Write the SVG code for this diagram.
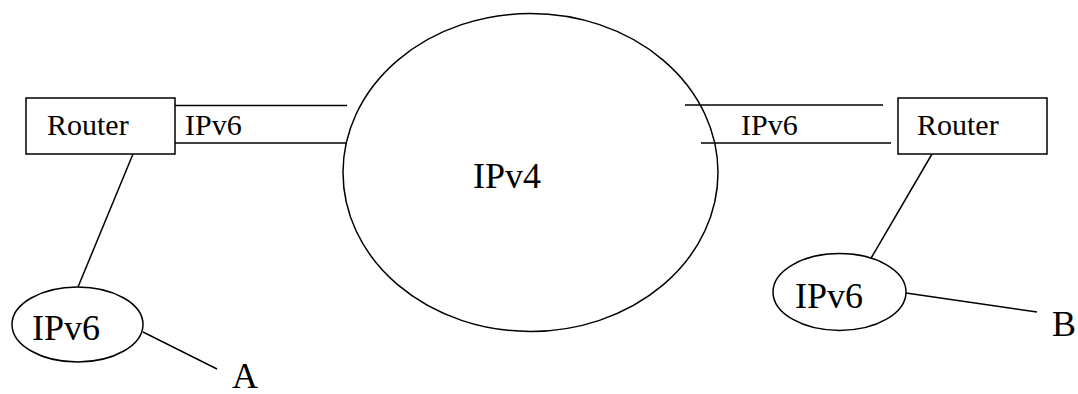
<svg xmlns="http://www.w3.org/2000/svg" width="1078" height="394" viewBox="0 0 1078 394">
<style>
.s{fill:none;stroke:#000;stroke-width:1.5}
.b{fill:#fff;stroke:#000;stroke-width:1.5}
text{font-family:'Liberation Serif','DejaVu Serif',serif;fill:#000}
.m{font-size:30px}
.l{font-size:36px}
</style>
<rect width="1078" height="394" fill="#fff"/>
<g id="connectors">
<line class="s" x1="175" y1="105.5" x2="347" y2="105.5"/>
<line class="s" x1="175" y1="143" x2="347" y2="143"/>
<line class="s" x1="685" y1="105" x2="883" y2="105"/>
<line class="s" x1="701" y1="143" x2="891" y2="143"/>
<line class="s" x1="133" y1="154" x2="78" y2="287"/>
<line class="s" x1="932" y1="154" x2="870" y2="260"/>
<line class="s" x1="143" y1="332" x2="217" y2="369"/>
<line class="s" x1="906" y1="293" x2="1037" y2="312"/>
</g>
<g id="ipv4">
<ellipse class="s" cx="530.5" cy="172.5" rx="187.5" ry="159"/>
<text class="l" x="473" y="188" font-family="Liberation Serif, serif">IPv4</text>
</g>
<g id="router-left">
<rect class="b" x="26" y="98" width="149" height="56"/>
<text class="m" x="47" y="135" font-family="Liberation Serif, serif">Router</text>
</g>
<g id="router-right">
<rect class="b" x="898" y="98" width="149" height="56"/>
<text class="m" x="917" y="135" font-family="Liberation Serif, serif">Router</text>
</g>
<g id="label-left"><text class="m" x="185" y="135" font-family="Liberation Serif, serif">IPv6</text></g>
<g id="label-right"><text class="m" x="741" y="135" font-family="Liberation Serif, serif">IPv6</text></g>
<g id="ipv6-left">
<ellipse class="b" cx="77.5" cy="324.5" rx="65.5" ry="37.5"/>
<text class="l" x="32" y="340" font-family="Liberation Serif, serif">IPv6</text>
</g>
<g id="ipv6-right">
<ellipse class="b" cx="839.5" cy="292" rx="66.5" ry="38.5"/>
<text class="l" x="795" y="308" font-family="Liberation Serif, serif">IPv6</text>
</g>
<g id="A"><text class="l" x="232" y="388" font-family="Liberation Serif, serif">A</text></g>
<g id="B"><text class="l" x="1052" y="336" font-family="Liberation Serif, serif">B</text></g>
</svg>
